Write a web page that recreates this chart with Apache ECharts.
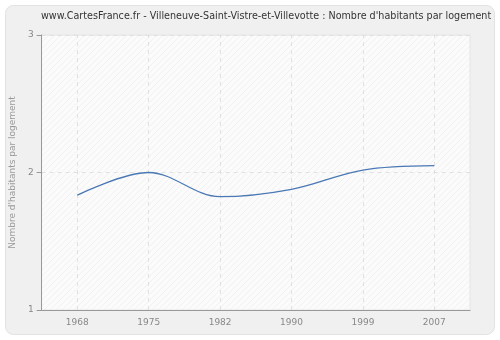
<!DOCTYPE html>
<html>
<head>
<meta charset="utf-8">
<script src="https://cdn.jsdelivr.net/npm/echarts@6/dist/echarts.min.js"></script>
<style>
  html, body { margin: 0; padding: 0; background: #ffffff; }
  #chart { width: 500px; height: 340px; }
</style>
</head>
<body>
<div id="chart"></div>
<script>
// Census years and average number of inhabitants per dwelling
const years = ['1968', '1975', '1982', '1990', '1999', '2007'];
const habitantsParLogement = [1.836, 2.0, 1.824, 1.878, 2.018, 2.05];
const yTicks = [1, 2, 3];

const titleText = "www.CartesFrance.fr - Villeneuve-Saint-Vistre-et-Villevotte : Nombre d'habitants par logement";
const yAxisName = "Nombre d'habitants par logement";

// Diagonal hatch pattern for the plot background
function hatch(bg, line) {
  const c = document.createElement('canvas');
  c.width = 6; c.height = 6;
  const g = c.getContext('2d');
  g.fillStyle = bg;
  g.fillRect(0, 0, 6, 6);
  g.strokeStyle = line;
  g.lineWidth = 1;
  g.beginPath();
  g.moveTo(0, 6); g.lineTo(6, 0);
  g.moveTo(-3, 3); g.lineTo(3, -3);
  g.moveTo(3, 9); g.lineTo(9, 3);
  g.stroke();
  return { image: c, repeat: 'repeat' };
}

const gridLine = { color: '#e0e0e0', type: [4, 4], width: 1 };

const chart = echarts.init(document.getElementById('chart'), null, { renderer: 'canvas' });

chart.setOption({
  animation: false,
  backgroundColor: '#ffffff',
  graphic: [{
    type: 'rect',
    z: -10,
    shape: { x: 5.5, y: 5.5, width: 489, height: 329, r: 8 },
    style: { fill: '#f0f0f0', stroke: '#e2e2e2', lineWidth: 1 }
  }, {
    type: 'text',
    left: 41,
    top: 11,
    style: {
      text: titleText,
      fill: '#333333',
      font: '9.6px "DejaVu Sans"'
    }
  }],
  grid: {
    left: 40, right: 30, top: 35, bottom: 30,
    show: true,
    backgroundColor: hatch('#fbfbfb', '#f1f1f1'),
    borderColor: '#e4e4e4',
    borderWidth: 1
  },
  xAxis: {
    type: 'category',
    data: years,
    boundaryGap: true,
    axisLine: { lineStyle: { color: '#999999' } },
    axisTick: { alignWithLabel: true, length: 5, lineStyle: { color: '#999999' } },
    axisLabel: { color: '#888888', fontFamily: 'DejaVu Sans', fontSize: 9, margin: 8 },
    splitLine: { show: false }
  },
  yAxis: {
    type: 'value',
    min: yTicks[0],
    max: yTicks[yTicks.length - 1],
    interval: 1,
    name: yAxisName,
    nameLocation: 'middle',
    nameGap: 24,
    nameTextStyle: { color: '#999999', fontFamily: 'DejaVu Sans', fontSize: 9 },
    axisLine: { show: true, lineStyle: { color: '#999999' } },
    axisTick: { show: true, length: 5, lineStyle: { color: '#999999' } },
    axisLabel: { color: '#888888', fontFamily: 'DejaVu Sans', fontSize: 9, margin: 8 },
    splitLine: { show: true, lineStyle: gridLine }
  },
  series: [{
    type: 'line',
    data: habitantsParLogement,
    smooth: 0.35,
    smoothConstraint: false,
    symbol: 'none',
    lineStyle: { color: '#4a78b4', width: 1.3 },
    // vertical dashed guides at each census year
    markLine: {
      silent: true,
      symbol: 'none',
      label: { show: false },
      z: 1,
      lineStyle: gridLine,
      data: years.map(y => ({ xAxis: y }))
    },
    markArea: {
      silent: true,
      z: -1,
      itemStyle: { color: hatch('#f7f7f7', '#ececec') },
      data: [[{ yAxis: 2 }, { yAxis: 3 }]]
    }
  }]
});
</script>
</body>
</html>
